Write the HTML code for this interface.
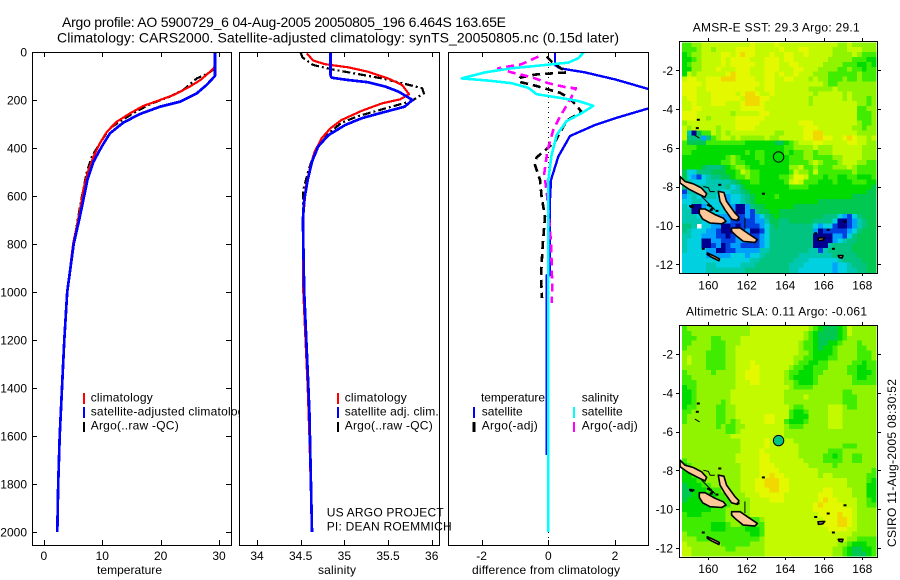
<!DOCTYPE html>
<html>
<head>
<meta charset="utf-8">
<title>Argo profile</title>
<style>
html,body{margin:0;padding:0;background:#fff;}
svg{display:block;}
text{font-family:"Liberation Sans",Arial,sans-serif;font-size:12px;fill:#000;}
.t14{font-size:14px;}
</style>
</head>
<body>
<svg id="figure" xmlns="http://www.w3.org/2000/svg" width="900" height="580" viewBox="0 0 900 580">
  <rect x="0" y="0" width="900" height="580" fill="#fff"/>
  <defs>
    <clipPath id="clip3"><rect x="448" y="52" width="201" height="494"/></clipPath>
  </defs>
  <g id="panel1"></g>
  <text x="90.7" y="401.7" textLength="62">climatology</text>
  <text x="90.7" y="415.7" textLength="160">satellite-adjusted climatology</text>
  <text x="90.7" y="429.7" textLength="88">Argo(..raw -QC)</text>
  <line x1="84" y1="393" x2="84" y2="404" stroke="#f00" stroke-width="2"/>
  <line x1="84" y1="407" x2="84" y2="418" stroke="#00f" stroke-width="2"/>
  <line x1="84" y1="422" x2="84" y2="432" stroke="#000" stroke-width="2"/>

  <g id="panel2"></g>
  <text x="344.7" y="401.7" textLength="62">climatology</text>
  <text x="344.7" y="415.7" textLength="94">satellite adj. clim.</text>
  <text x="344.7" y="429.7" textLength="88">Argo(..raw -QC)</text>
  <line x1="338" y1="393" x2="338" y2="404" stroke="#f00" stroke-width="2"/>
  <line x1="338" y1="407" x2="338" y2="418" stroke="#00f" stroke-width="2"/>
  <line x1="338" y1="422" x2="338" y2="432" stroke="#000" stroke-width="2"/>

  <g id="panel3"></g>
  <text x="481" y="401.7" textLength="64">temperature</text>
  <text x="481.7" y="415.7" textLength="41">satellite</text>
  <text x="481.7" y="429.7" textLength="56">Argo(-adj)</text>
  <text x="581.7" y="401.7" textLength="37">salinity</text>
  <text x="581.7" y="415.7" textLength="41">satellite</text>
  <text x="581.7" y="429.7" textLength="56">Argo(-adj)</text>
  <line x1="474" y1="407" x2="474" y2="418" stroke="#00f" stroke-width="2"/>
  <line x1="474" y1="422" x2="474" y2="432" stroke="#000" stroke-width="3"/>
  <line x1="574" y1="407" x2="574" y2="418" stroke="#0ff" stroke-width="2"/>
  <line x1="574" y1="422" x2="574" y2="432" stroke="#f0f" stroke-width="2"/>

  <text x="326.7" y="516.7" textLength="117">US ARGO PROJECT</text>
  <text x="326.7" y="530.7" textLength="125">PI: DEAN ROEMMICH</text>

  <text class="t14" x="62" y="27" textLength="444">Argo profile: AO 5900729_6 04-Aug-2005 20050805_196 6.464S 163.65E</text>
  <text class="t14" x="57" y="42.5" textLength="562">Climatology: CARS2000. Satellite-adjusted climatology: synTS_20050805.nc (0.15d later)</text>

  <text x="97" y="574" textLength="65">temperature</text>
  <text x="318" y="574" textLength="38">salinity</text>
  <text x="472" y="574" textLength="148">difference from climatology</text>

  <g id="map1"></g>
  <g id="map2"></g>
  <text x="692.7" y="31.7" textLength="167">AMSR-E SST: 29.3 Argo: 29.1</text>
  <text x="686" y="315.7" textLength="181">Altimetric SLA: 0.11 Argo: -0.061</text>
  <text transform="translate(896,547) rotate(-90)" x="0" y="0" textLength="168">CSIRO 11-Aug-2005 08:30:52</text>
</svg>

<script>
// ---------- profile data ----------
const depthTicks = [0,200,400,600,800,1000,1200,1400,1600,1800,2000];
const tempTicks = [0,10,20,30];
const salTicks = [34,34.5,35,35.5,36];
const salTickLabels = ['34','34.5','35','35.5','36'];
const diffTicks = [-2,0,2];

const tempClimDepth = [0,60,75,117,147,179,200,225,255,290,332,380,436,505,575,658,800,1000,1200,1400,1600,1800,2000];
const tempClimValues = [29.3,29.3,28.8,26.8,24.8,22.2,19.9,17,14.8,12.5,10.8,9.6,8.5,7.45,6.75,6.2,5,4,3.5,3.1,2.7,2.5,2.3];
const tempSatDepth = [0,100,137,172,207,228,258,294,339,394,457,533,617,693,800,1000,1200,1400,1600,1800,2000];
const tempSatValues = [29.3,29.3,27.9,26.2,23.3,19.9,16.5,13.6,11.3,9.9,8.5,7.45,6.75,6.1,5.1,4,3.5,3.1,2.7,2.45,2.3];
const tempArgoDepth = [0,70,88,110,158,186,217,255,290,318,380,436,505,603,686,800,900,1030];
const tempArgoValues = [29.3,29.2,28.2,26.2,23.9,21.6,18.2,15.3,13,11.3,9.6,8.2,7.3,6.5,5.9,5.1,4.5,3.85];

const salClimDepth = [6,36,51,64,82,110,137,176,197,214,245,283,318,360,415,478,561,686,800,1000,1400,1600,2000];
const salClimValues = [34.57,34.645,34.78,35.05,35.27,35.5,35.66,35.74,35.64,35.43,35.2,34.97,34.84,34.74,34.66,34.61,34.56,34.53,34.525,34.53,34.58,34.6,34.63];
const salSatDepth = [0,96,107,117,126,144,165,200,228,253,276,304,346,394,457,533,617,700,1000,1370,1500,2000];
const salSatValues = [34.84,34.84,34.855,35.05,35.27,35.47,35.62,35.78,35.69,35.43,35.2,35.01,34.82,34.7,34.63,34.58,34.54,34.525,34.54,34.585,34.6,34.63];
const salArgoDepth = [3,22,54,72,92,110,130,151,172,204,235,267,294,339,415,492,575,700,1030];
const salArgoValues = [34.5,34.52,34.645,34.855,35.16,35.43,35.66,35.89,35.91,35.77,35.47,35.16,34.97,34.82,34.66,34.59,34.53,34.53,34.54];

const diffTempSatDepth = [0,54,68,85,114,154,200,235,272,304,350,436,533,645,930,931,1680];
const diffTempSatValues = [0.2,0.2,0.35,1.1,2,3,5,3,2.1,1.4,0.65,0.3,0.08,0.04,0.04,-0.05,-0.05];
const diffTempArgoDepth = [19,40,85,94,107,124,140,170,193,249,286,374,439,471,533,603,686,811,936,1025];
const diffTempArgoValues = [-0.05,0.1,0.55,-0.4,-0.85,-0.88,-0.4,0.35,0.65,1,0.55,0.2,-0.35,-0.4,-0.25,-0.2,-0.1,-0.17,-0.22,-0.19];
const diffSalSatDepth = [0,26,44,54,68,85,110,119,130,149,176,190,204,224,255,288,346,429,533,2000];
const diffSalSatValues = [1.07,0.9,0.6,-0.1,-1.1,-1.9,-2.6,-1.8,-1.1,-0.6,-0.35,0.3,0.9,1.35,1,0.55,0.25,0.1,0,0];
const diffSalArgoDepth = [19,51,68,85,105,130,149,151,200,269,325,408,505,617,686,796,979,1045];
const diffSalArgoValues = [-0.3,-0.8,-1.5,-1.1,-0.5,0,0.6,0.83,0.65,0.35,0.15,-0.02,-0.12,-0.02,0.02,0.08,0.12,0.1];

// ---------- map data: gridded levels, 0 (cold/low) .. c (warm/high), w = no data ----------
const mapLonTicks = [160,162,164,166,168];
const mapLatTicks = [-2,-4,-6,-8,-10,-12];
const argoLon = 163.65;
const argoLat = -6.464;
const argoSstLevel = 7;
const argoSlaLevel = 5;

const sstRows = [
"8899aaaaaa aaaabaaaab aaaaaaaaaa aa99a99999",
"8889aa9aaa abbbbaaaaa baaabbaaaa a999aaa999",
"7899aaaabb abcbbaaaba abbaabaaaa a9999a9888",
"7789aaaaba bbbbaaabbb abbaaaaaaa 9999988877",
"7899aaaaba bbbbbaabbb aabbaaaaa9 9998887787",
"7799aaabaa abbbaaabbb aaabbaaa99 9988988788",
"7a9aaaaaab cbbbaaabba baabaaa999 8888889888",
"abbaabbbcc cbbbbaabba abbaaa9a99 8889889888",
"bbbbabbbbb bbbbbbabba aaaaaaaaa9 8899999999",
"bbbaabbbbb bbbbbaabba aaaaaa9999 9a99999999",
"bbbaaabbbb babccbaaba aaaaaaa9aa aaa9a99999",
"abbaaabbbb bbacccbbaa aaaaaa9aaa aaa9a99989",
"aabaaabbba aabcccbaaa aaaaaa9aaa aaaaaa9989",
"aabbaaaaaa aabbbbbaaa aaaaaaaaaa aaaaaa8899",
"bbbaaaaaaa 9aaaaabbaa aaaaaaaaaa aaaaaa8889",
"bbbaa9aaaa abbbbbbaaa aaaaaaaaaa aaaaaa8889",
"9aaaaaaaaa abbbbbaaaa aaaabbbaaa aaaaaa9889",
"a9aaaaa9aa abbbbaaaaa aaaaabbbaa aaaaa99899",
"a40688a9a9 aaaaaaaaa9 9aaaabbcca aaaaaa9999",
"a5552589aa 9a99999a99 aaaaabbccb baabcbaa9a",
"8666688888 8887777776 6789aaabba aaaabbaa99",
"8887777777 7777777777 7889999a99 9aaaaaa999",
"8877777777 7778788777 7878899899 9aaaaaa999",
"7777777778 9877788777 7788899888 899aaaa999",
"7777777788 9887778777 7788889a98 889aaa9988",
"7777655567 8998777777 7799a88988 8999a98888",
"6335556667 78a9887777 778a998a88 8888898888",
"6321345566 7889887777 889bba8887 8877887778",
"6433344444 5677887777 78aba88877 7877788877",
"5434444445 3467777777 7788887777 7777777776",
"1443344433 4456777777 7777777777 7777777766",
"2343344332 3345677778 7777777777 7777766666",
"3344333322 3345677777 7777777766 6666666666",
"4300233333 2002566777 7776666666 6666666666",
"4400333333 2002156677 6666666666 6666666666",
"4443332222 1112123567 6666666665 5532135666",
"4444332322 1111122466 5566666555 5300124566",
"554w332200 1011112356 5555555323 3100124566",
"5433322100 0112001355 5555555201 1111235666",
"4433222110 1212112355 5555555000 0221356666",
"4333002211 1222212355 5555555000 0234556666",
"4333001201 2211112355 5555555000 4555566666",
"4333322001 1222224455 5555554414 5555566666",
"3333322222 3332334555 5555444444 4555556666",
"3333333333 3333445555 5554443333 3345555666",
"3333344333 3344455555 5544433333 3233455566",
"3333344444 4445555555 5544333333 3233445566"
];

const slaRows = [
"8999999999 9999aaaaaa aaaaaa9876 6678a99999",
"8899999999 9999aaaaaa aaaaa98766 6678a99999",
"8889998899 99aaaaaaaa aaaaa98766 6678999999",
"8899998889 99aaaaaaaa aaaa988766 7789998999",
"8999998889 9aaaaaaaaa aaaa988767 7899998899",
"9999988889 9aaaaaaaaa aaaa998777 7899998889",
"9a99988889 9aaaaaaaaa aaa9988777 8899998889",
"9a99988889 9aaabaaaaa aaa9887788 9999988788",
"9999988889 9aaabbaaaa aa98877888 9999887788",
"8999998999 9aabbbaaaa a988777889 9999887778",
"8899999999 9aabbbaaaa a987777899 9999987788",
"8889999999 9aaabbaaaa a998777899 9999988888",
"7889999999 9aaaaaaaaa aa98888999 9999999999",
"7789999999 aaaaaaaaaa a999999999 9998899999",
"7789999999 aaaaaaaaaa a9999a9999 9998889999",
"7789999989 aaaaaaaaaa a999999999 9998889999",
"7889999889 9aaaaaaaaa aa98899999 aaa9889999",
"8899999889 9aaaaaaaaa aa87789999 aaa9999999",
"8999999889 9aaaaaabba aa87779999 aaa9999999",
"8999999889 89aaaaabba a877789999 aaa9999999",
"9999999898 899aaaaaaa a988899999 aaa9999999",
"9999999998 89aaaaaaaa a999999999 9999999999",
"9999999999 aaaaaaaaaa a999999999 9999999999",
"9999999999 99aaaaabaa aaa9999999 9999999999",
"9999999999 99aaaaabaa aaaa999999 9998889999",
"9999999999 99aaaabaaa aaaa999999 8889999999",
"9999999999 9aaaaabbaa aaaa999998 8789988999",
"8999999999 9aaaaabbaa aaaaa99998 8889988999",
"7899999999 99aaaabbba aaaaaa9999 9899999999",
"7789999999 99aaaabbbb aaaaaaaa99 9999999998",
"7788999999 99aaaabbcb baaaaaaa9a a999999988",
"7778899999 99aaabbccc bbaaaaaaaa aaaa999987",
"6777889999 99aaabbccc bbaaaaaaaa aaaa999977",
"6677788899 99aaabbbcc bbaaaaaaab baaaa99977",
"6677777889 999aaabbbb baaaaaaabb baaaa99977",
"6777777888 9999aaaabb baaaaaaabc bbaaaa9987",
"7777777888 9999aaaaaa aaaaaaabcb bbbaaa9988",
"7777778889 9999aaaaaa aaaaaaabbb bbbbba9999",
"8777888889 9999aaaaaa aaaaaaaabb bbcbba9999",
"8888888889 9998889aaa aaaaaaaaab bbccba9999",
"8888887778 9988888aaa aaaaaaaaab bbccba9999",
"8888887778 8887778aaa aaaaaaaaaa bbbbaa9999",
"9888888888 8888778aaa aaaaaaaaaa aaaaa99999",
"9998888888 8888889aaa aaaaaaaaaa aaaa998888",
"a999999988 8888999aaa aaaaaaaaaa aa99877788",
"aa99999998 8999999aaa aaaaaaaaaa a998766778",
"aa99999999 9999999aaa aaaaaaaaaa a998766678"
];

// coastline outlines, lon/lat
const islandLargeA = [[158.53,-7.47],[158.79,-7.73],[159.22,-7.85],[159.65,-8.07],[159.91,-8.36],[159.83,-8.54],[159.39,-8.33],[158.96,-8.11],[158.53,-7.81]];
const islandLargeB = [[160.52,-8.24],[160.81,-8.3],[160.95,-8.76],[161.39,-9.36],[161.59,-9.56],[161.51,-9.75],[161.21,-9.67],[160.87,-9.19],[160.61,-8.76]];
const islandLargeC = [[159.53,-9.15],[159.83,-9.15],[160.35,-9.44],[160.78,-9.62],[160.92,-9.79],[160.69,-9.91],[160.09,-9.87],[159.71,-9.67],[159.53,-9.39]];
const islandLargeD = [[161.21,-10.13],[161.65,-10.13],[162.08,-10.42],[162.55,-10.73],[162.42,-10.87],[161.82,-10.82],[161.44,-10.52],[161.21,-10.3]];
const islandRennell = [[159.95,-11.42],[160.25,-11.55],[160.58,-11.72],[160.55,-11.82],[160.2,-11.65],[159.95,-11.5]];
const islandCruz = [[165.7,-10.65],[166.05,-10.63],[165.95,-10.75],[165.72,-10.78]];
const islandSmall = [[166.75,-11.55],[167,-11.55],[166.95,-11.68],[166.8,-11.65]];
const coastLines = [
  [[159.65,-8.5],[160.35,-9.2]],
  [[159.74,-7.99],[160.0,-8.05],[160.1,-8.25],[160.34,-8.25]],
  [[161.9,-9.6],[161.9,-10.2]],
  [[159.3,-5.35],[159.55,-5.5]]
];
const reefDotLon = [160.0,160.1,160.2,160.15,159.08,159.13,159.2,160.6,162.86,166.5,167.1,166.23,159.48,159.43,159.74,161.55,165.58,160.45];
const reefDotLat = [-8.95,-9.0,-9.12,-9.2,-9.0,-9.05,-9.02,-7.9,-8.36,-11.2,-9.8,-10.22,-4.55,-4.98,-11.2,-9.7,-10.4,-9.25];

// ---------- helpers ----------
const SVGNS = 'http://www.w3.org/2000/svg';
function linear(d0,d1,r0,r1){ return v => r0 + (v-d0)*(r1-r0)/(d1-d0); }
function levelColor(v){
  const stops = ['#000090','#0040e0','#00a0ff','#00d0e0','#00c8b0','#00c480','#00c850','#00dc00','#40ec00','#90f400','#c4fa00','#e4f800','#f0d800'];
  return stops[Math.max(0,Math.min(12,v))];
}
function node(parent,tag,attrs){
  const el = document.createElementNS(SVGNS,tag);
  for(const k in attrs){ el.setAttribute(k,attrs[k]); }
  parent.appendChild(el);
  return el;
}
function label(parent,x,y,anchor,str,name){
  const el = node(parent,'text',{x:x,y:y,'text-anchor':anchor});
  el.textContent = str;
  
  
  return el;
}

const yDepth = linear(0,2000,52,532);
const xTemp = linear(0,30,43.9,219);
const xSal = linear(34,36,257,431.7);
const xDiff = linear(-2,2,481.6,615);

function drawFrame(parent,left,right,top,bottom,name){
  const r = node(parent,'rect',{x:left+0.5,y:top+0.5,width:right-left,height:bottom-top,fill:'#fff',stroke:'none'});
  
  
}
function drawBorder(parent,left,right,top,bottom,name){
  const r = node(parent,'rect',{x:left+0.5,y:top+0.5,width:right-left,height:bottom-top,fill:'none',stroke:'#000','stroke-width':1,'shape-rendering':'crispEdges'});
  
  
}
function drawSeries(parent,depths,values,xs,stroke,width,dash,name,clip){
  const pts = depths.map((d,i)=>xs(values[i]).toFixed(1)+','+yDepth(d).toFixed(1)).join(' ');
  const attrs = {points:pts,fill:'none',stroke:stroke,'stroke-width':width,'shape-rendering':'crispEdges','stroke-linejoin':'round'};
  if(dash){ attrs['stroke-dasharray']=dash; }
  if(clip){ attrs['clip-path']='url(#'+clip+')'; }
  const el = node(parent,'polyline',attrs);
  
  
}
function tickMark(parent,x1,y1,x2,y2,name){
  const el = node(parent,'line',{x1:x1,y1:y1,x2:x2,y2:y2,stroke:'#000','stroke-width':1,'shape-rendering':'crispEdges'});
  
  
}
function xTicks(parent,ticks,labels,xs,top,bottom,inward,labelY,prefix){
  ticks.forEach((t,i)=>{
    const x = Math.round(xs(t))+0.5;
    if(inward){
      tickMark(parent,x,top,x,top+5,prefix+'-top-tick');
      tickMark(parent,x,bottom,x,bottom-5,prefix+'-bottom-tick');
    }else{
      tickMark(parent,x,top,x,top-3,prefix+'-top-tick');
      tickMark(parent,x,bottom,x,bottom+3,prefix+'-bottom-tick');
    }
    label(parent,xs(t),labelY,'middle',labels[i],prefix+'-tick-label');
  });
}

// ---------- panel 1 ----------
const p1 = document.getElementById('panel1');
drawFrame(p1,32,231,52,545,'temperature-plot');
xTicks(p1,tempTicks,tempTicks.map(String),xTemp,52,545,true,560,'temperature-x');
depthTicks.forEach(d=>{
  const y = Math.round(yDepth(d))+0.5;
  if(d>0){
    tickMark(p1,32,y,37,y,'depth-left-tick');
    tickMark(p1,231,y,226,y,'depth-right-tick');
  }
  label(p1,27,yDepth(d)+4.5,'end',String(d),'depth-tick-label');
});
drawSeries(p1,tempArgoDepth,tempArgoValues,xTemp,'#000',2.2,'8 3 2 3','temperature-argo-line');
drawSeries(p1,tempClimDepth,tempClimValues,xTemp,'#f00',2.2,null,'temperature-climatology-line');
drawSeries(p1,tempSatDepth,tempSatValues,xTemp,'#00f',2.7,null,'temperature-satellite-line');
drawBorder(p1,32,231,52,545,'temperature-plot');

// ---------- panel 2 ----------
const p2 = document.getElementById('panel2');
drawFrame(p2,239,439,52,545,'salinity-plot');
xTicks(p2,salTicks,salTickLabels,xSal,52,545,true,560,'salinity-x');
drawSeries(p2,salArgoDepth,salArgoValues,xSal,'#000',2.2,'8 3 2 3','salinity-argo-line');
drawSeries(p2,salClimDepth,salClimValues,xSal,'#f00',2.2,null,'salinity-climatology-line');
drawSeries(p2,salSatDepth,salSatValues,xSal,'#00f',2.7,null,'salinity-satellite-line');
drawBorder(p2,239,439,52,545,'salinity-plot');

// ---------- panel 3 ----------
const p3 = document.getElementById('panel3');
drawFrame(p3,448,648,52,545,'difference-plot');
xTicks(p3,diffTicks,diffTicks.map(String),xDiff,52,545,true,560,'difference-x');
const zeroLine = node(p3,'line',{x1:xDiff(0),y1:52,x2:xDiff(0),y2:545,stroke:'#000','stroke-width':1,'stroke-dasharray':'1 4','shape-rendering':'crispEdges'});


drawSeries(p3,diffTempSatDepth,diffTempSatValues,xDiff,'#00f',2.4,null,'diff-temperature-satellite-line','clip3');
drawSeries(p3,diffTempArgoDepth,diffTempArgoValues,xDiff,'#000',2.6,'8 5','diff-temperature-argo-line','clip3');
drawSeries(p3,diffSalArgoDepth,diffSalArgoValues,xDiff,'#f0f',2.6,'8 5','diff-salinity-argo-line','clip3');
drawSeries(p3,diffSalSatDepth,diffSalSatValues,xDiff,'#0ff',2.6,null,'diff-salinity-satellite-line','clip3');
drawBorder(p3,448,648,52,545,'difference-plot');

// ---------- maps ----------
const GRID_LON0 = 158.63, GRID_LAT0 = -0.557, GRID_STEP = 0.2525;
const xLon = linear(160,168,708.3,862.3);

function drawMap(parent,rows,frameTop,frameBottom,latTopY,latBottomY,xLabelY,argoLevel,prefix){
  const yLat = linear(-2,-12,latTopY,latBottomY);
  const bg = node(parent,'rect',{x:679.5,y:frameTop+0.5,width:198,height:frameBottom-frameTop,fill:'#fff'});
  
  
  rows.forEach((rowStr,r)=>{
    const row = rowStr.replace(/\s/g,'');
    for(let c=0;c<row.length;c++){
      if(row[c]==='w'){ continue; }
      const level = parseInt(row[c],16);
      const lon = GRID_LON0 + c*GRID_STEP;
      const lat = GRID_LAT0 - r*GRID_STEP;
      const x = xLon(lon), y = yLat(lat);
      const nextX = Math.min(xLon(lon+GRID_STEP),877);
      const cell = node(parent,'rect',{x:x.toFixed(2),y:y.toFixed(2),width:(nextX-x+0.3).toFixed(2),height:(yLat(lat-GRID_STEP)-y+0.3).toFixed(2),fill:levelColor(level),'shape-rendering':'crispEdges'});
      
      
    }
  });
  [islandLargeA,islandLargeB,islandLargeC,islandLargeD,islandRennell,islandCruz,islandSmall].forEach(poly=>{
    const pts = poly.map(p=>xLon(p[0]).toFixed(1)+','+yLat(p[1]).toFixed(1)).join(' ');
    const el = node(parent,'polygon',{points:pts,fill:'#ffc898',stroke:'#000','stroke-width':1.6,'stroke-linejoin':'round'});
    
    
  });
  coastLines.forEach(line=>{
    const pts = line.map(p=>xLon(p[0]).toFixed(1)+','+yLat(p[1]).toFixed(1)).join(' ');
    const el = node(parent,'polyline',{points:pts,fill:'none',stroke:'#000','stroke-width':1});
    
    
  });
  reefDotLon.forEach((lon,i)=>{
    const el = node(parent,'rect',{x:(xLon(lon)-1.5).toFixed(1),y:(yLat(reefDotLat[i])-1).toFixed(1),width:3,height:2,fill:'#000'});
    
    
  });
  const marker = node(parent,'circle',{cx:xLon(argoLon),cy:yLat(argoLat),r:5.2,fill:levelColor(argoLevel),stroke:'#000','stroke-width':1});
  
  
  const frame = node(parent,'rect',{x:679.5,y:frameTop+0.5,width:198,height:frameBottom-frameTop,fill:'none',stroke:'#000','stroke-width':1,'shape-rendering':'crispEdges'});
  
  
  mapLonTicks.forEach(t=>{
    const x = Math.round(xLon(t))+0.5;
    tickMark(parent,x,frameTop,x,frameTop-3,prefix+'-lon-top-tick');
    tickMark(parent,x,frameBottom,x,frameBottom+3,prefix+'-lon-bottom-tick');
    label(parent,xLon(t),xLabelY,'middle',String(t),prefix+'-lon-tick-label');
  });
  mapLatTicks.forEach(t=>{
    const y = Math.round(yLat(t))+0.5;
    tickMark(parent,679,y,676,y,prefix+'-lat-left-tick');
    tickMark(parent,878,y,881,y,prefix+'-lat-right-tick');
    label(parent,673,yLat(t)+4.5,'end',String(t),prefix+'-lat-tick-label');
  });
}
drawMap(document.getElementById('map1'),sstRows,41,273,70.3,264.3,289.3,argoSstLevel,'sst');
drawMap(document.getElementById('map2'),slaRows,325,557,354,548,573,argoSlaLevel,'sla');
</script>
</body>
</html>
